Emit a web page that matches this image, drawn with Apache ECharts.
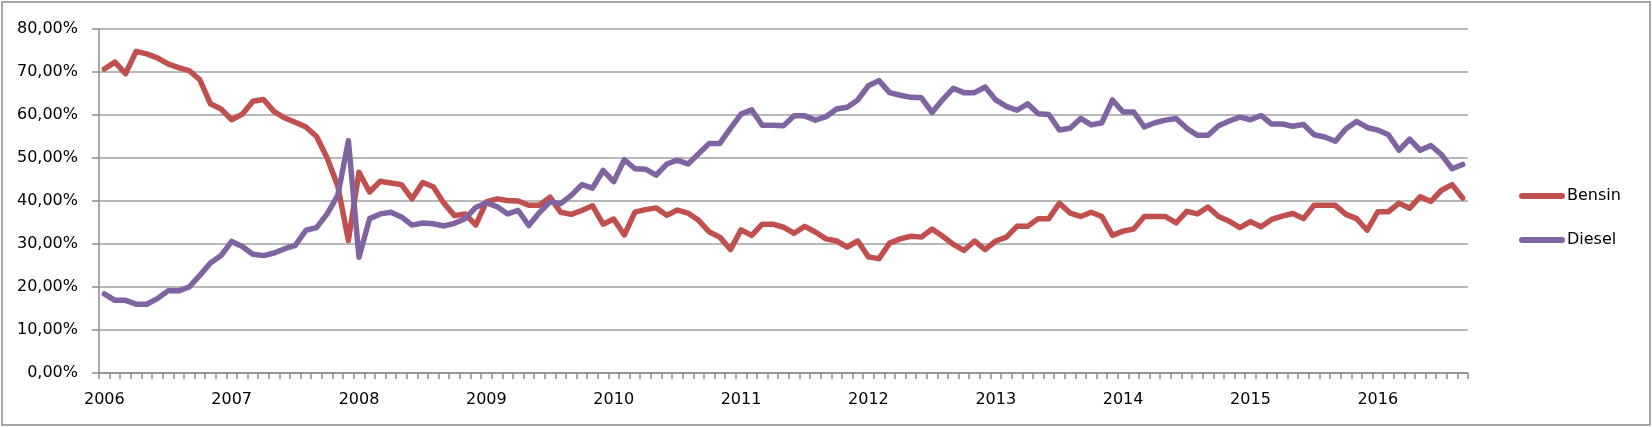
<!DOCTYPE html>
<html>
<head>
<meta charset="utf-8">
<script src="https://cdn.jsdelivr.net/npm/echarts@6/dist/echarts.min.js"></script>
<style>
html,body{margin:0;padding:0;background:#fff;}
#chart{width:1652px;height:427px;}
</style>
</head>
<body>
<div id="chart"></div>
<script>
// Year tick labels (one category per month, Jan 2006 .. Sep 2016)
const yearLabels = ['2006','2007','2008','2009','2010','2011','2012','2013','2014','2015','2016'];
const monthCount = 129;

// Share of new cars, in percent
const bensin = [
  70.7, 72.3, 69.6, 74.8, 74.2, 73.3, 71.9, 71.0, 70.3, 68.2, 62.6, 61.4,
  58.9, 60.2, 63.2, 63.6, 60.8, 59.3, 58.3, 57.2, 55.0, 50.0, 43.5, 30.8,
  46.7, 42.1, 44.6, 44.2, 43.8, 40.5, 44.3, 43.3, 39.5, 36.6, 37.0, 34.4,
  39.8, 40.5, 40.1, 40.0, 39.0, 39.0, 40.9, 37.4, 36.9, 37.8, 38.9, 34.6,
  35.8, 32.1, 37.4, 38.0, 38.4, 36.7, 37.9, 37.2, 35.5, 32.8, 31.6, 28.7,
  33.3, 32.0, 34.6, 34.6, 33.9, 32.5, 34.1, 32.8, 31.2, 30.7, 29.3, 30.7,
  27.0, 26.6, 30.2, 31.2, 31.8, 31.6, 33.5, 31.8, 29.9, 28.5, 30.7, 28.7,
  30.7, 31.6, 34.1, 34.1, 35.9, 35.9, 39.5, 37.2, 36.4, 37.4, 36.4, 32.0,
  33.0, 33.5, 36.4, 36.4, 36.4, 34.9, 37.6, 37.0, 38.6, 36.4, 35.3, 33.8,
  35.2, 34.0, 35.7, 36.5, 37.1, 35.9, 39.0, 39.0, 39.0, 36.9, 35.9, 33.2,
  37.5, 37.5, 39.5, 38.3, 41.0, 39.9, 42.5, 43.8, 40.7
];
const diesel = [
  18.4, 16.9, 16.9, 16.0, 16.0, 17.3, 19.1, 19.1, 20.0, 22.7, 25.6, 27.3,
  30.6, 29.4, 27.6, 27.3, 27.9, 28.9, 29.7, 33.2, 33.8, 37.0, 41.3, 54.0,
  26.9, 35.9, 37.0, 37.4, 36.3, 34.4, 34.9, 34.7, 34.2, 34.8, 35.9, 38.5,
  39.6, 38.7, 37.0, 37.8, 34.3, 37.3, 39.8, 39.4, 41.3, 43.8, 43.0, 47.1,
  44.5, 49.6, 47.5, 47.4, 46.0, 48.6, 49.5, 48.6, 51.0, 53.4, 53.4, 56.9,
  60.2, 61.2, 57.6, 57.6, 57.5, 59.8, 59.8, 58.8, 59.6, 61.4, 61.8, 63.5,
  66.8, 68.0, 65.2, 64.6, 64.1, 64.0, 60.6, 63.6, 66.2, 65.2, 65.2, 66.5,
  63.5, 62.0, 61.1, 62.6, 60.3, 60.1, 56.5, 56.9, 59.2, 57.7, 58.2, 63.5,
  60.7, 60.7, 57.2, 58.2, 58.8, 59.2, 56.9, 55.3, 55.3, 57.5, 58.6, 59.5,
  58.9, 59.9, 57.9, 57.9, 57.4, 57.8, 55.4, 54.9, 53.9, 56.8, 58.5, 57.1,
  56.5, 55.4, 51.8, 54.4, 51.8, 52.9, 50.8, 47.5, 48.5
];

const categories = [];
for (let i = 0; i < monthCount; i++) {
  const y = yearLabels[Math.floor(i / 12)];
  const m = (i % 12) + 1;
  categories.push(y + '-' + (m < 10 ? '0' + m : m));
}

const FONT = 'DejaVu Sans';
const chart = echarts.init(document.getElementById('chart'), null, {renderer: 'canvas'});
const capsule = 'path://M3,0 L43,0 A3,3 0 0 1 43,6 L3,6 A3,3 0 0 1 3,0 Z';

chart.setOption({
  animation: false,
  backgroundColor: '#fff',
  graphic: [{
    type: 'rect',
    shape: {x: 2, y: 2, width: 1648, height: 423},
    style: {fill: null, stroke: '#8a8a8a', lineWidth: 1.5},
    silent: true
  }],
  grid: {left: 99, right: 184, top: 29, bottom: 54, containLabel: false},
  legend: {
    orient: 'vertical',
    left: 1514,
    top: 183,
    padding: 5,
    itemWidth: 46,
    itemHeight: 6,
    itemGap: 28,
    icon: capsule,
    textStyle: {fontFamily: FONT, fontSize: 16, color: '#000', padding: [0, 0, 0, -3]},
    data: ['Bensin', 'Diesel']
  },
  xAxis: {
    type: 'category',
    data: categories,
    boundaryGap: true,
    axisLine: {show: true, lineStyle: {color: '#8c8c8c', width: 1.5}},
    axisTick: {show: true, interval: 0, length: 6, inside: false, lineStyle: {color: '#8c8c8c', width: 1.5}},
    axisLabel: {
      interval: 11,
      margin: 19,
      fontFamily: FONT,
      fontSize: 16,
      color: '#000',
      formatter: function (v) { return v.slice(0, 4); }
    },
    splitLine: {show: false}
  },
  yAxis: {
    type: 'value',
    min: 0,
    max: 80,
    interval: 10,
    axisLine: {show: true, lineStyle: {color: '#8c8c8c', width: 1.5}},
    axisTick: {show: true, length: 7, inside: false, lineStyle: {color: '#8c8c8c', width: 1.5}},
    axisLabel: {
      margin: 21,
      fontFamily: FONT,
      fontSize: 16,
      color: '#000',
      formatter: function (v) { return v.toFixed(2).replace('.', ',') + '%'; }
    },
    splitLine: {show: true, lineStyle: {color: '#a0a0a0', width: 1.5}}
  },
  series: [
    {
      name: 'Bensin',
      type: 'line',
      data: bensin,
      symbol: 'none',
      smooth: false,
      color: '#C0504D',
      lineStyle: {color: '#C0504D', width: 5.5, cap: 'round', join: 'round'}
    },
    {
      name: 'Diesel',
      type: 'line',
      data: diesel,
      symbol: 'none',
      smooth: false,
      color: '#8064A2',
      lineStyle: {color: '#8064A2', width: 5.5, cap: 'round', join: 'round'}
    }
  ]
});
</script>
</body>
</html>
